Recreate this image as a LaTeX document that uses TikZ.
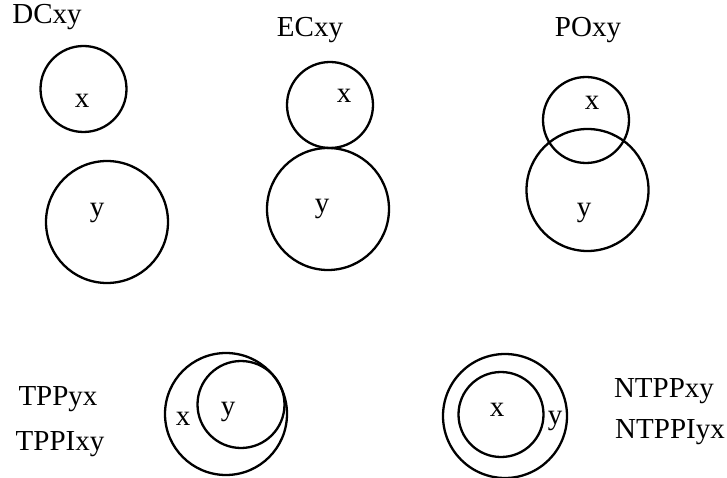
\documentclass[tikz,border=0pt]{standalone}
\usepackage{fontspec}
\setmainfont{Liberation Serif}
\begin{document}
\begin{tikzpicture}[x=1pt, y=-1pt, font=\fontsize{29}{34}\selectfont,
  ring/.style={draw, circle, line width=2.3pt, inner sep=0, outer sep=0},
  lbl/.style={anchor=base, inner sep=0}]

\useasboundingbox (0,0) rectangle (727,478);

% DC
\node[lbl] (t1) at (47,24) {DCxy};
\node[ring, minimum size=86] (x1) at (83.5,89) {};
\node[ring, minimum size=122] (y1) at (107,222) {};
\node[lbl] (a1) at (82,108) {x};
\node[lbl] (b1) at (97,216) {y};

% EC
\node[lbl] (t2) at (310,37) {ECxy};
\node[ring, minimum size=86] (x2) at (330,105) {};
\node[ring, minimum size=122] (y2) at (328,209) {};
\node[lbl] (a2) at (344,103) {x};
\node[lbl] (b2) at (322,212) {y};

% PO
\node[lbl] (t3) at (588,37) {POxy};
\node[ring, minimum size=86] (x3) at (586,120) {};
\node[ring, minimum size=122] (y3) at (587.5,190) {};
\node[lbl] (a3) at (592,110) {x};
\node[lbl] (b3) at (584,216) {y};

% TPP
\node[lbl] (t4) at (58,405) {TPPyx};
\node[lbl] (t5) at (60,450) {TPPIxy};
\node[ring, minimum size=122] (x4) at (226,414) {};
\node[ring, minimum size=87] (y4) at (241,404.5) {};
\node[lbl] (a4) at (183,425) {x};
\node[lbl] (b4) at (228,415) {y};

% NTPP
\node[lbl] (t6) at (664,397) {NTPPxy};
\node[lbl] (t7) at (670,438) {NTPPIyx};
\node[ring, minimum size=124] (y5) at (505,416) {};
\node[ring, minimum size=85] (x5) at (501,414.5) {};
\node[lbl] (a5) at (497,416) {x};
\node[lbl] (b5) at (555,424) {y};

\end{tikzpicture}
\end{document}
